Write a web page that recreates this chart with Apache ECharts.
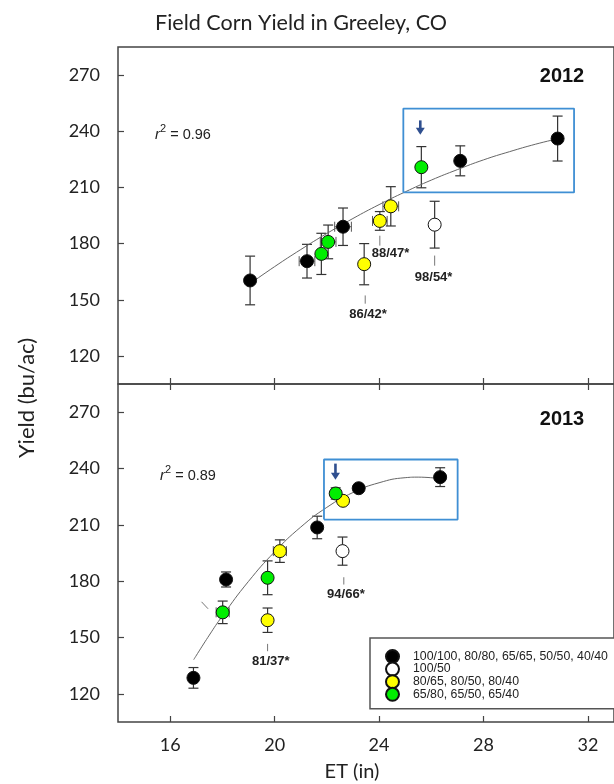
<!DOCTYPE html>
<html><head><meta charset="utf-8">
<script src="https://cdn.jsdelivr.net/npm/echarts@6/dist/echarts.min.js"></script>
<style>html,body{margin:0;padding:0;background:#fff}#c{width:614px;height:784px}</style>
</head><body><div id="c"></div><script>
// ---- data ----
const xTicks = [16, 20, 24, 28, 32];
const yTicks = [120, 150, 180, 210, 240, 270];
const legendNames = ['100/100, 80/80, 65/65, 50/50, 40/40', '100/50', '80/65, 80/50, 80/40', '65/80, 65/50, 65/40'];
// [ET, yield, yield error, ET error]
const black2012 = [[19.06,160.3,13,0],[21.24,170.6,9,0.3],[22.62,189.0,10,0.32],[27.11,224.2,8,0],[30.84,236.1,12,0]];
const white2012 = [[26.13,190.1,12.5,0]];
const yellow2012 = [[23.43,169.0,11,0],[24.03,192.1,5,0.28],[24.45,199.9,10.5,0.3]];
const green2012 = [[21.79,174.5,11,0],[22.05,180.9,9,0.3],[25.62,220.8,11,0]];
const black2013 = [[16.89,128.5,5.5,0],[18.14,180.9,4,0],[21.63,208.6,6,0],[23.22,229.5,2,0],[26.34,235.4,5,0]];
const white2013 = [[22.6,196.0,7.5,0]];
const yellow2013 = [[19.73,159.2,6.5,0],[20.2,196.0,6,0.25],[22.62,222.8,2,0]];
const green2013 = [[18.01,163.4,6,0.25],[19.73,181.8,9,0],[22.34,226.7,3,0]];
const curve2012 = [[19.1,159.0],[20,167.7],[21,176.8],[22,185.4],[23,193.4],[24,200.8],[25,207.6],[26,213.9],[27,219.5],[28,224.7],[29,229.1],[30,233.1],[30.85,236.0]];
const curve2013 = [[16.9,138.2],[17.5,151.3],[18,161.5],[19,179.9],[20,195.6],[21,208.8],[22,219.3],[23,227.2],[24,232.4],[25,235.1],[25.5,235.4],[26.2,234.8]];
const box2012 = [[24.93,207.3],[31.47,252.1]];
const box2013 = [[21.89,212.8],[27.01,244.8]];
// [ET, start yield, end yield]
const arrow2012 = [[25.58,245.8,238.6]];
const arrow2013 = [[22.33,242.6,234.6]];
// [dash ET 1, dash yield 1, dash ET 2, dash yield 2, text ET, text yield, text]
const notes2012 = [[23.47,152.3,23.47,147.9,23.58,142.0,'86/42*'],[24.03,184.2,24.03,178.9,24.44,174.5,'88/47*'],[26.13,173.6,26.13,168.2,26.09,162.0,'98/54*']];
const notes2013 = [[19.73,146.6,19.73,142.7,19.85,137.3,'81/37*'],[22.65,182.1,22.65,178.2,22.73,172.9,'94/66*'],[17.2,169.0,17.45,165.3,null,null,'']];
const r2 = ['0.96', '0.89'];
const years = ['2012', '2013'];

// ---- chart ----
const chart = echarts.init(document.getElementById('c'), null, {renderer: 'canvas'});
const LAB = 'Lato';
const ARIAL = '"Liberation Sans", Arial, sans-serif';

function errRender(arr) {
  return function (params, api) {
    const d = arr[params.dataIndex];
    const x = d[0], y = d[1], e = d[2], ex = d[3];
    const c = api.coord([x, y]);
    const st = {stroke: '#333', lineWidth: 1.2};
    const ch = [];
    const cw = 5;
    if (e > 0) {
      const t = api.coord([x, y + e]), b = api.coord([x, y - e]);
      ch.push({type: 'line', shape: {x1: c[0], y1: t[1], x2: c[0], y2: b[1]}, style: st});
      ch.push({type: 'line', shape: {x1: c[0]-cw, y1: t[1], x2: c[0]+cw, y2: t[1]}, style: st});
      ch.push({type: 'line', shape: {x1: c[0]-cw, y1: b[1], x2: c[0]+cw, y2: b[1]}, style: st});
    }
    if (ex > 0) {
      const l = api.coord([x - ex, y]), r = api.coord([x + ex, y]);
      const s2 = {stroke: '#555', lineWidth: 1};
      ch.push({type: 'line', shape: {x1: l[0], y1: c[1], x2: r[0], y2: c[1]}, style: s2});
      ch.push({type: 'line', shape: {x1: l[0], y1: c[1]-cw, x2: l[0], y2: c[1]+cw}, style: s2});
      ch.push({type: 'line', shape: {x1: r[0], y1: c[1]-cw, x2: r[0], y2: c[1]+cw}, style: s2});
    }
    return {type: 'group', children: ch};
  };
}
function arrowRender(arr) {
  return function (params, api) {
    const d = arr[params.dataIndex];
    const s = api.coord([d[0], d[1]]), e = api.coord([d[0], d[2]]);
    const col = '#2f4f8f';
    return {type: 'group', children: [
      {type: 'line', shape: {x1: s[0], y1: s[1], x2: e[0], y2: e[1] - 5}, style: {stroke: col, lineWidth: 2.6}},
      {type: 'polygon', shape: {points: [[e[0]-4.5, e[1]-6], [e[0]+4.5, e[1]-6], [e[0], e[1]+1]]}, style: {fill: col}}
    ]};
  };
}
function noteRender(arr) {
  return function (params, api) {
    const d = arr[params.dataIndex];
    const a = api.coord([d[0], d[1]]), b = api.coord([d[2], d[3]]);
    const ch = [{type: 'line', shape: {x1: a[0], y1: a[1], x2: b[0], y2: b[1]}, style: {stroke: '#777', lineWidth: 1}}];
    if (d[6]) {
      const t = api.coord([d[4], d[5]]);
      ch.push({type: 'text', x: t[0], y: t[1], style: {text: d[6], font: 'bold 13px ' + ARIAL, fill: '#222', textAlign: 'center', textVerticalAlign: 'middle'}});
    }
    return {type: 'group', children: ch};
  };
}
function boxLine(b) {
  return [[b[0][0], b[0][1]], [b[1][0], b[0][1]], [b[1][0], b[1][1]], [b[0][0], b[1][1]], [b[0][0], b[0][1]]];
}

const groups = [
  {black: black2012, white: white2012, yellow: yellow2012, green: green2012, curve: curve2012, box: box2012, arrow: arrow2012, notes: notes2012},
  {black: black2013, white: white2013, yellow: yellow2013, green: green2013, curve: curve2013, box: box2013, arrow: arrow2013, notes: notes2013}
];
const colors = {black: '#000000', white: '#ffffff', yellow: '#ffff00', green: '#00ee00'};
const keys = ['black', 'white', 'yellow', 'green'];

const series = [];
groups.forEach((g, p) => {
  const all = [].concat(g.black, g.white, g.yellow, g.green);
  series.push({type: 'custom', xAxisIndex: p, yAxisIndex: p, data: all.map(d => [d[0], d[1]]), renderItem: errRender(all), z: 2, silent: true, clip: false});
  series.push({type: 'line', xAxisIndex: p, yAxisIndex: p, data: g.curve, smooth: true, showSymbol: false, symbol: 'none', lineStyle: {color: '#666', width: 1}, z: 3, silent: true});
  series.push({type: 'line', xAxisIndex: p, yAxisIndex: p, data: boxLine(g.box), showSymbol: false, symbol: 'none', lineStyle: {color: '#3f8fd4', width: 1.8}, z: 3, silent: true});
  series.push({type: 'custom', xAxisIndex: p, yAxisIndex: p, data: g.arrow.map(d => [d[0], d[1]]), renderItem: arrowRender(g.arrow), z: 4, silent: true, clip: false});
  series.push({type: 'custom', xAxisIndex: p, yAxisIndex: p, data: g.notes.map(d => [d[0], d[1]]), renderItem: noteRender(g.notes), z: 4, silent: true, clip: false});
  keys.forEach((k, i) => {
    series.push({type: 'scatter', name: legendNames[i], xAxisIndex: p, yAxisIndex: p, data: g[k].map(d => [d[0], d[1]]),
      symbol: 'circle', symbolSize: 13, itemStyle: {color: colors[k], borderColor: '#111', borderWidth: 1, opacity: 1}, z: 6});
  });
});

function xAx(grid, pos, labels) {
  return {type: 'value', gridIndex: grid, position: pos, min: 14, max: 33,
    axisLine: {show: false}, splitLine: {show: false},
    axisTick: {show: true, inside: true, length: 6, customValues: xTicks, lineStyle: {color: '#444', width: 1.2}},
    axisLabel: {show: labels, customValues: xTicks, fontFamily: LAB, fontSize: 18, color: '#222', margin: 14}};
}
function yAx(grid) {
  return {type: 'value', gridIndex: grid, min: 105, max: 285,
    axisLine: {show: false}, splitLine: {show: false},
    axisTick: {show: true, inside: true, length: 6, customValues: yTicks, lineStyle: {color: '#444', width: 1.2}},
    axisLabel: {show: true, customValues: yTicks, fontFamily: LAB, fontSize: 18, color: '#222', margin: 18}};
}

const rich = {i: {fontFamily: ARIAL, fontStyle: 'italic', fontSize: 15, fill: '#222', verticalAlign: 'bottom', lineHeight: 19},
              s: {fontFamily: ARIAL, fontSize: 11, fill: '#222', verticalAlign: 'top', lineHeight: 19},
              n: {fontFamily: ARIAL, fontSize: 14.5, fill: '#222', verticalAlign: 'bottom', lineHeight: 19}};

const option = {
  animation: false,
  backgroundColor: '#fff',
  title: {text: 'Field Corn Yield in Greeley, CO', left: 296, top: 7, textAlign: 'center',
    textStyle: {fontFamily: LAB, fontSize: 21.5, fontWeight: 'normal', color: '#222'}},
  grid: [
    {left: 118, right: -4, top: 47, height: 337, show: true, borderColor: '#444', borderWidth: 1.5, backgroundColor: 'transparent'},
    {left: 118, right: -4, top: 384, height: 338, show: true, borderColor: '#444', borderWidth: 1.5, backgroundColor: 'transparent'}
  ],
  xAxis: [xAx(0, 'bottom', false), xAx(1, 'bottom', true), xAx(1, 'top', false)],
  yAxis: [yAx(0), yAx(1)],
  legend: {data: legendNames, orient: 'vertical', left: 370, top: 638, selectedMode: false,
    itemWidth: 13, itemHeight: 13, itemGap: -2.4, icon: 'circle',
    padding: [11, 30, 7, 15], borderColor: '#555', borderWidth: 1.5, backgroundColor: '#fff',
    textStyle: {fontFamily: ARIAL, fontSize: 12.3, color: '#222', lineHeight: 13, padding: [0, 0, 0, 9]}},
  graphic: [
    {type: 'text', x: 27, y: 398, rotation: Math.PI / 2, style: {text: 'Yield (bu/ac)', font: '22px ' + LAB, fill: '#222', textAlign: 'center', textVerticalAlign: 'middle'}},
    {type: 'text', x: 352, y: 772, style: {text: 'ET (in)', font: '20px ' + LAB, fill: '#222', textAlign: 'center', textVerticalAlign: 'middle'}},
    {type: 'text', x: 562, y: 76, style: {text: years[0], font: 'bold 20px ' + ARIAL, fill: '#111', textAlign: 'center', textVerticalAlign: 'middle'}},
    {type: 'text', x: 562, y: 419, style: {text: years[1], font: 'bold 20px ' + ARIAL, fill: '#111', textAlign: 'center', textVerticalAlign: 'middle'}},
    {type: 'text', x: 155, y: 133, style: {text: '{i|r}{s|2}{n| = ' + r2[0] + '}', textVerticalAlign: 'middle', rich: rich}},
    {type: 'text', x: 160, y: 474, style: {text: '{i|r}{s|2}{n| = ' + r2[1] + '}', textVerticalAlign: 'middle', rich: rich}}
  ],
  series: series
};
chart.setOption(option);
</script></body></html>
